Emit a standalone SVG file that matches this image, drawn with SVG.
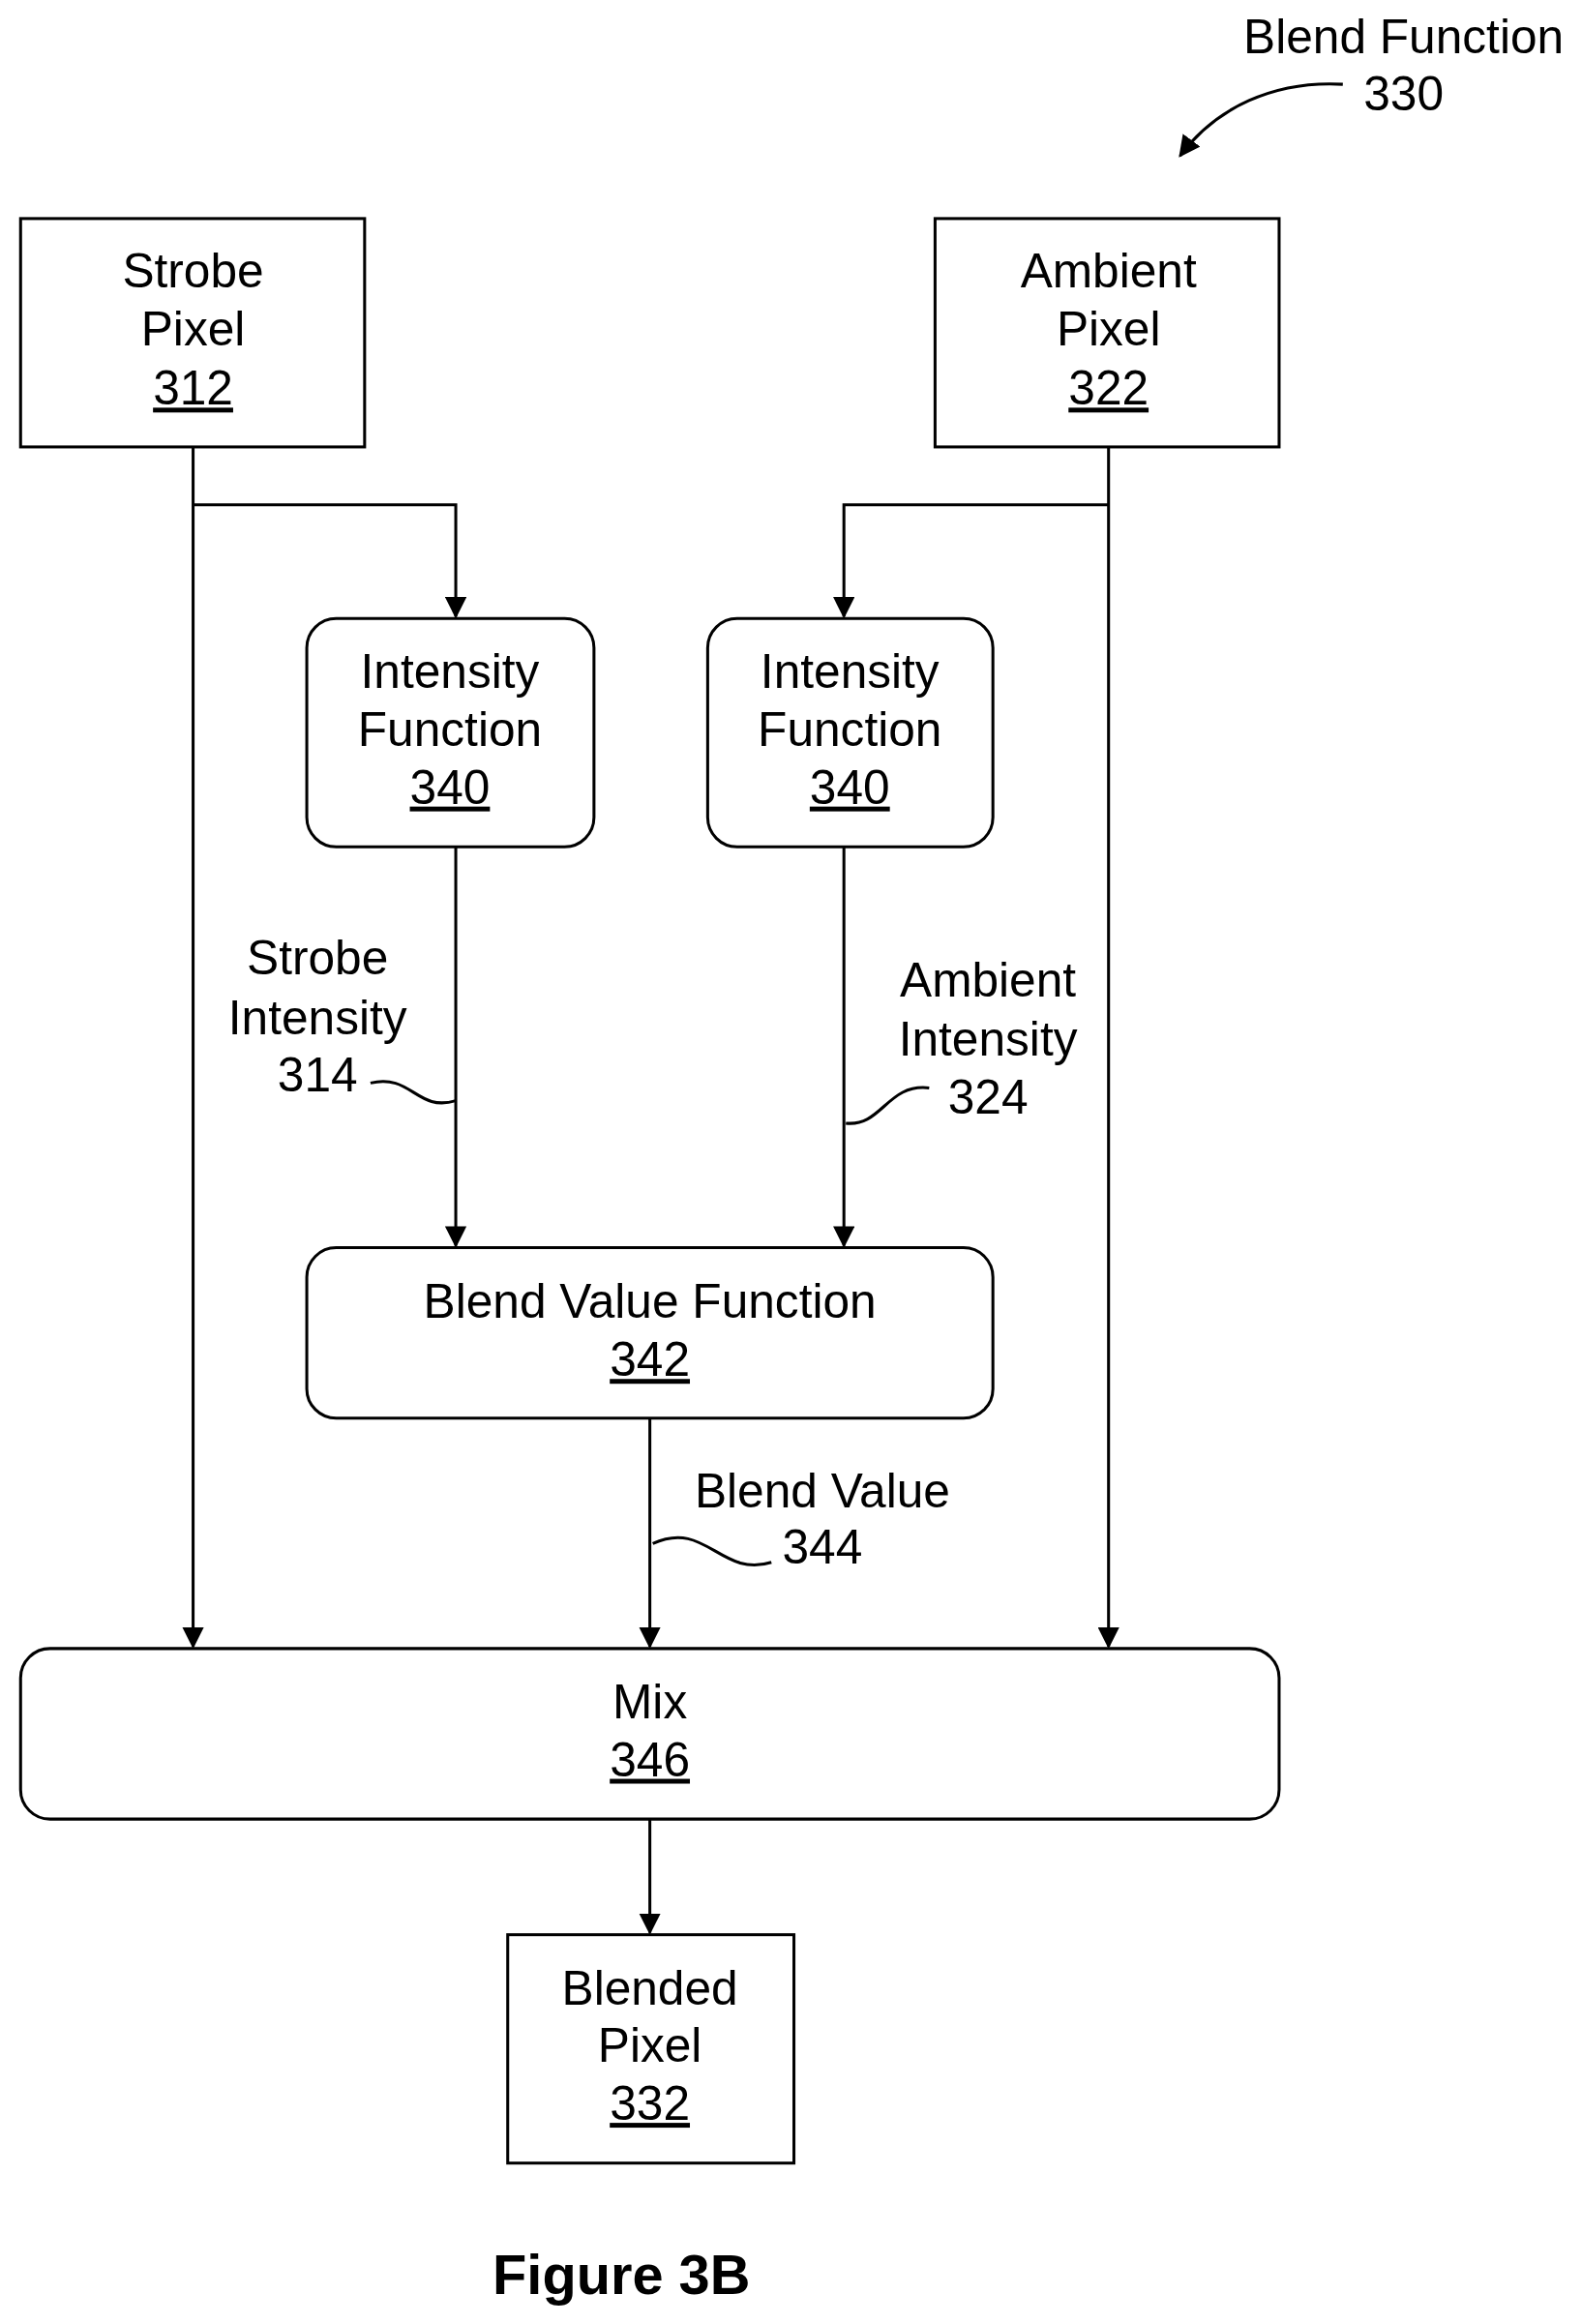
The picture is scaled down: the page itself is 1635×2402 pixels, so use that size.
<svg xmlns="http://www.w3.org/2000/svg" width="1635" height="2402" viewBox="0 0 1635 2402">
<style>
.b{fill:#fff;stroke:#000;stroke-width:3}
text{font-family:"Liberation Sans",Arial,sans-serif;font-size:49px;text-anchor:middle;fill:#000}
.u{text-decoration:underline}
.c{fill:none;stroke:#000;stroke-width:3}
</style>
<defs>
<marker id="m" viewBox="0 0 10 10" refX="9" refY="5" markerWidth="22" markerHeight="22" orient="auto" markerUnits="userSpaceOnUse"><path d="M0,0L10,5L0,10z" fill="#000"/></marker></defs>
<g transform="scale(1.013)">
<g id="connectors">
<path class="c" d="M197,456V1680" marker-end="url(#m)"/>
<path class="c" d="M197,515H465V629" marker-end="url(#m)"/>
<path class="c" d="M1131,456V1680" marker-end="url(#m)"/>
<path class="c" d="M1131,515H861V629" marker-end="url(#m)"/>
<path class="c" d="M465,864V1271" marker-end="url(#m)"/>
<path class="c" d="M861,864V1271" marker-end="url(#m)"/>
<path class="c" d="M663,1447V1680" marker-end="url(#m)"/>
<path class="c" d="M663,1856V1972" marker-end="url(#m)"/>
<path class="c" d="M378,1105C420,1095 425,1135 465,1123"/>
<path class="c" d="M863,1146C900,1150 905,1105 948,1110"/>
<path class="c" d="M666,1575C720,1550 735,1610 787,1594"/>
<path class="c" d="M1370,86C1300,82 1240,110 1204,159" marker-end="url(#m)"/>
</g>
<g id="strobe"><rect class="b" x="21" y="223" width="351" height="233"/><text x="197" y="293">Strobe</text><text x="197" y="352">Pixel</text><text class="u" x="197" y="413">312</text></g>
<g id="ambient"><rect class="b" x="954" y="223" width="351" height="233"/><text x="1131" y="293">Ambient</text><text x="1131" y="352">Pixel</text><text class="u" x="1131" y="413">322</text></g>
<g id="int1"><rect class="b" x="313" y="631" width="293" height="233" rx="30"/><text x="459" y="702">Intensity</text><text x="459" y="761">Function</text><text class="u" x="459" y="820">340</text></g>
<g id="int2"><rect class="b" x="722" y="631" width="291" height="233" rx="30"/><text x="867" y="702">Intensity</text><text x="867" y="761">Function</text><text class="u" x="867" y="820">340</text></g>
<g id="bvf"><rect class="b" x="313" y="1273" width="700" height="174" rx="30"/><text x="663" y="1345">Blend Value Function</text><text class="u" x="663" y="1404">342</text></g>
<g id="mix"><rect class="b" x="21" y="1682" width="1284" height="174" rx="30"/><text x="663" y="1753">Mix</text><text class="u" x="663" y="1812">346</text></g>
<g id="blended"><rect class="b" x="518" y="1974" width="292" height="233"/><text x="663" y="2045">Blended</text><text x="663" y="2104">Pixel</text><text class="u" x="663" y="2163">332</text></g>
<g id="labels">
<text x="324" y="994">Strobe</text><text x="324" y="1055">Intensity</text><text x="324" y="1114">314</text>
<text x="1008" y="1017">Ambient</text><text x="1008" y="1077">Intensity</text><text x="1008" y="1136">324</text>
<text x="839" y="1538">Blend Value</text><text x="839" y="1595">344</text>
<text x="1432" y="54">Blend Function</text><text x="1432" y="113">330</text>
<text x="634" y="2341" style="font-weight:bold;font-size:57px">Figure 3B</text>
</g>
</g>
</svg>
